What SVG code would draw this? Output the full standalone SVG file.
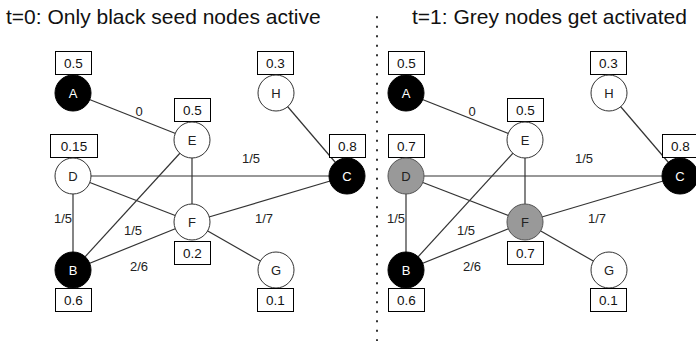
<svg xmlns="http://www.w3.org/2000/svg" width="696" height="341" viewBox="0 0 696 341">
<style>
text{font-family:"Liberation Sans",Arial,sans-serif;fill:#222}
.title{font-size:21px;fill:#111}
.lbl{font-size:13px;text-anchor:middle;dominant-baseline:central}
.nl{font-size:13px;text-anchor:middle;dominant-baseline:central}
.edge{stroke:#333;stroke-width:1.2;fill:none}
.n{stroke:#333;stroke-width:1;fill:#fff}
.blk{fill:#000;stroke:#000}
.gry{fill:#999;stroke:#555}
.w{fill:#fff}
.box{fill:#fff;stroke:#000;stroke-width:1}
.bt{font-size:13.5px;text-anchor:middle;dominant-baseline:central;fill:#111}
</style>
<rect width="696" height="341" fill="#fff"/>
<text class="title" x="6" y="24">t=0: Only black seed nodes active</text>
<text class="title" x="412" y="24">t=1: Grey nodes get activated</text>
<line x1="377" y1="16.3" x2="377" y2="341" stroke="#333" stroke-width="2" stroke-dasharray="2 7.5"/>

<g id="connectors">
<g id="left-edges">
<line class="edge" x1="73" y1="93" x2="192" y2="140"/>
<line class="edge" x1="276" y1="93" x2="347" y2="176"/>
<line class="edge" x1="73" y1="176" x2="347" y2="176"/>
<line class="edge" x1="192" y1="140" x2="192" y2="222"/>
<line class="edge" x1="192" y1="140" x2="73" y2="270"/>
<line class="edge" x1="73" y1="176" x2="192" y2="222"/>
<line class="edge" x1="73" y1="176" x2="73" y2="270"/>
<line class="edge" x1="192" y1="222" x2="347" y2="176"/>
<line class="edge" x1="73" y1="270" x2="192" y2="222"/>
<line class="edge" x1="192" y1="222" x2="276" y2="270"/>
<text class="lbl" x="139" y="111">0</text>
<text class="lbl" x="251" y="158">1/5</text>
<text class="lbl" x="63" y="218">1/5</text>
<text class="lbl" x="133" y="230">1/5</text>
<text class="lbl" x="264" y="218">1/7</text>
<text class="lbl" x="139" y="266">2/6</text>
</g>
<g id="right-edges" transform="translate(333,0)">
<line class="edge" x1="73" y1="93" x2="192" y2="140"/>
<line class="edge" x1="276" y1="93" x2="347" y2="176"/>
<line class="edge" x1="73" y1="176" x2="347" y2="176"/>
<line class="edge" x1="192" y1="140" x2="192" y2="222"/>
<line class="edge" x1="192" y1="140" x2="73" y2="270"/>
<line class="edge" x1="73" y1="176" x2="192" y2="222"/>
<line class="edge" x1="73" y1="176" x2="73" y2="270"/>
<line class="edge" x1="192" y1="222" x2="347" y2="176"/>
<line class="edge" x1="73" y1="270" x2="192" y2="222"/>
<line class="edge" x1="192" y1="222" x2="276" y2="270"/>
<text class="lbl" x="139" y="111">0</text>
<text class="lbl" x="251" y="158">1/5</text>
<text class="lbl" x="63" y="218">1/5</text>
<text class="lbl" x="133" y="230">1/5</text>
<text class="lbl" x="264" y="218">1/7</text>
<text class="lbl" x="139" y="266">2/6</text>
</g>
</g>

<!-- Left panel nodes -->
<g id="L-A"><rect class="box" x="55.5" y="51.5" width="36" height="23"/><text class="bt" x="73.5" y="63">0.5</text><circle class="n blk" cx="73" cy="93" r="18"/><text class="nl w" x="73" y="93">A</text></g>
<g id="L-H"><rect class="box" x="257.5" y="51.5" width="36" height="23"/><text class="bt" x="275.5" y="63">0.3</text><circle class="n" cx="276" cy="93" r="18"/><text class="nl" x="276" y="93">H</text></g>
<g id="L-E"><rect class="box" x="174.5" y="98.5" width="36" height="23"/><text class="bt" x="192.5" y="110">0.5</text><circle class="n" cx="192" cy="140" r="18"/><text class="nl" x="192" y="140">E</text></g>
<g id="L-D"><rect class="box" x="50.5" y="134.5" width="47" height="23"/><text class="bt" x="74" y="146">0.15</text><circle class="n" cx="73" cy="176" r="18"/><text class="nl" x="73" y="176">D</text></g>
<g id="L-C"><rect class="box" x="329.5" y="134.5" width="36" height="23"/><text class="bt" x="347.5" y="146">0.8</text><circle class="n blk" cx="347" cy="176" r="18"/><text class="nl w" x="347" y="176">C</text></g>
<g id="L-F"><circle class="n" cx="192" cy="222" r="18"/><text class="nl" x="192" y="222">F</text><rect class="box" x="174.5" y="241.5" width="36" height="23"/><text class="bt" x="192.5" y="253">0.2</text></g>
<g id="L-B"><circle class="n blk" cx="73" cy="270" r="18"/><text class="nl w" x="73" y="270">B</text><rect class="box" x="55.5" y="288.5" width="36" height="23"/><text class="bt" x="73.5" y="300">0.6</text></g>
<g id="L-G"><circle class="n" cx="276" cy="270" r="18"/><text class="nl" x="276" y="270">G</text><rect class="box" x="257.5" y="288.5" width="36" height="23"/><text class="bt" x="275.5" y="300">0.1</text></g>

<!-- Right panel nodes -->
<g id="R-A"><rect class="box" x="388.5" y="51.5" width="36" height="23"/><text class="bt" x="406.5" y="63">0.5</text><circle class="n blk" cx="406" cy="93" r="18"/><text class="nl w" x="406" y="93">A</text></g>
<g id="R-H"><rect class="box" x="590.5" y="51.5" width="36" height="23"/><text class="bt" x="608.5" y="63">0.3</text><circle class="n" cx="609" cy="93" r="18"/><text class="nl" x="609" y="93">H</text></g>
<g id="R-E"><rect class="box" x="507.5" y="98.5" width="36" height="23"/><text class="bt" x="525.5" y="110">0.5</text><circle class="n" cx="525" cy="140" r="18"/><text class="nl" x="525" y="140">E</text></g>
<g id="R-D"><rect class="box" x="388.5" y="134.5" width="36" height="23"/><text class="bt" x="406.5" y="146">0.7</text><circle class="n gry" cx="406" cy="176" r="18"/><text class="nl" x="406" y="176">D</text></g>
<g id="R-C"><rect class="box" x="662.5" y="134.5" width="36" height="23"/><text class="bt" x="680.5" y="146">0.8</text><circle class="n blk" cx="680" cy="176" r="18"/><text class="nl w" x="680" y="176">C</text></g>
<g id="R-F"><circle class="n gry" cx="525" cy="222" r="18"/><text class="nl" x="525" y="222">F</text><rect class="box" x="507.5" y="241.5" width="36" height="23"/><text class="bt" x="525.5" y="253">0.7</text></g>
<g id="R-B"><circle class="n blk" cx="406" cy="270" r="18"/><text class="nl w" x="406" y="270">B</text><rect class="box" x="388.5" y="288.5" width="36" height="23"/><text class="bt" x="406.5" y="300">0.6</text></g>
<g id="R-G"><circle class="n" cx="609" cy="270" r="18"/><text class="nl" x="609" y="270">G</text><rect class="box" x="590.5" y="288.5" width="36" height="23"/><text class="bt" x="608.5" y="300">0.1</text></g>
</svg>
